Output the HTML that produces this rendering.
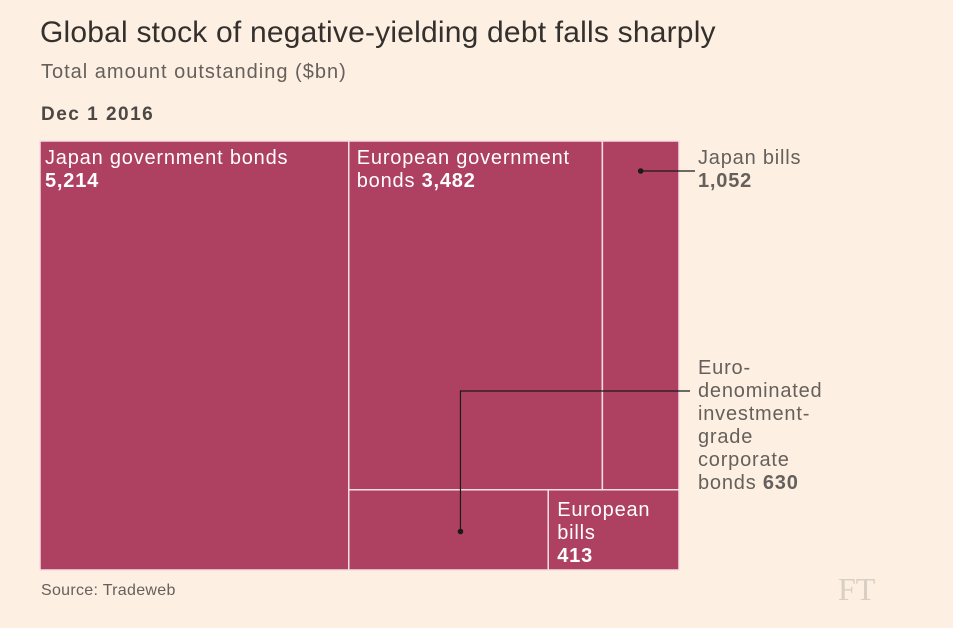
<!DOCTYPE html>
<html><head><meta charset="utf-8"><style>
body{margin:0;background:#fdf0e2;font-family:"Liberation Sans",sans-serif;}
</style></head><body>
<svg id="c" width="953" height="623" font-family="Liberation Sans, sans-serif">
<rect width="953" height="623" fill="#fdf0e2"/>
<text x="40" y="42" font-size="30" letter-spacing="0.2" fill="#33302e">Global stock of negative-yielding debt falls sharply</text>
<text x="41" y="78" font-size="20" letter-spacing="1" fill="#66605c">Total amount outstanding ($bn)</text>
<text x="41" y="120" font-size="19" letter-spacing="1.5" font-weight="bold" fill="#4d4845">Dec 1 2016</text>
<g id="tiles"></g>
<text x="41" y="595" font-size="16" letter-spacing="0.3" fill="#66605c">Source: Tradeweb</text>
<text x="838" y="600" font-size="32" font-family="Liberation Serif, serif" fill="#d9cfc5">FT</text>
</svg>
<script>
const categories=["Japan government bonds","European government bonds","Japan bills","Euro-denominated investment-grade corporate bonds","European bills"];
const values=[5214,3482,1052,630,413];
const fmt=v=>v.toLocaleString('en-US');
const X0=40,Y0=141,W=639,H=429;
const T=values.reduce((a,b)=>a+b,0);
const ns="http://www.w3.org/2000/svg";
const g=document.getElementById('tiles');
function mk(tag,attrs,parent){const e=document.createElementNS(ns,tag);for(const k in attrs)e.setAttribute(k,attrs[k]);(parent||g).appendChild(e);return e;}
const w0=W*values[0]/T;
const rest=T-values[0];
const bh=H*(values[3]+values[4])/rest;
const topH=H-bh;
const x1=X0+w0, rw=W-w0;
const w1=rw*values[1]/(values[1]+values[2]);
const w3=rw*values[3]/(values[3]+values[4]);
const rects=[[X0,Y0,w0,H],[x1,Y0,w1,topH],[x1+w1,Y0,rw-w1,topH],[x1,Y0+topH,w3,bh],[x1+w3,Y0+topH,rw-w3,bh]];
const names=["tile-japan-government-bonds","tile-european-government-bonds","tile-japan-bills","tile-corporate-bonds","tile-european-bills"];
rects.forEach((r,i)=>{
 const e=mk('rect',{x:r[0],y:r[1],width:r[2],height:r[3],fill:"#ae4062",stroke:"#f5dfe2","stroke-width":1.5});
 
 
});
function label(x,y,lines,fill,name){
 const t=mk('text',{x:x,y:y,"font-size":20,"letter-spacing":0.8,fill:fill});
 
 
 lines.forEach((ln,i)=>{const s=mk('tspan',{x:x,dy:i?23:0},t);
  ln.forEach(p=>{const q=mk('tspan',p[1]?{"font-weight":"bold"}:{},s);q.textContent=p[0];});});
}
const r0=rects[0],r1=rects[1],r2=rects[2],r3=rects[3],r4=rects[4];
label(r0[0]+5,r0[1]+23,[[["Japan government bonds"]],[[fmt(values[0]),1]]],"#fff","label-japan-government-bonds");
label(r1[0]+8,r1[1]+23,[[["European government"]],[["bonds "],[fmt(values[1]),1]]],"#fff","label-european-government-bonds");
label(r4[0]+9,r4[1]+26,[[["European"]],[["bills"]],[[fmt(values[4]),1]]],"#fff","label-european-bills");
const jx=r2[0]+r2[2]*0.5, jy=r2[1]+30;
let l=mk('line',{x1:jx,y1:jy,x2:X0+W+16,y2:jy,stroke:"#1a1a1a","stroke-width":1.2});

let d=mk('circle',{cx:jx,cy:jy,r:2.8,fill:"#1a1a1a"});

label(698,164,[[["Japan bills"]],[[fmt(values[2]),1]]],"#66605c","label-japan-bills");
const cx=r3[0]+r3[2]*0.56, cy=r3[1]+r3[3]*0.52, ly=391;
l=mk('polyline',{points:`${cx},${cy} ${cx},${ly} ${X0+W+11},${ly}`,fill:"none",stroke:"#1a1a1a","stroke-width":1.2});

d=mk('circle',{cx:cx,cy:cy,r:2.8,fill:"#1a1a1a"});

label(698,374,[[["Euro-"]],[["denominated"]],[["investment-"]],[["grade"]],[["corporate"]],[["bonds "],[fmt(values[3]),1]]],"#66605c","label-corporate-bonds");
</script>
</body></html>
